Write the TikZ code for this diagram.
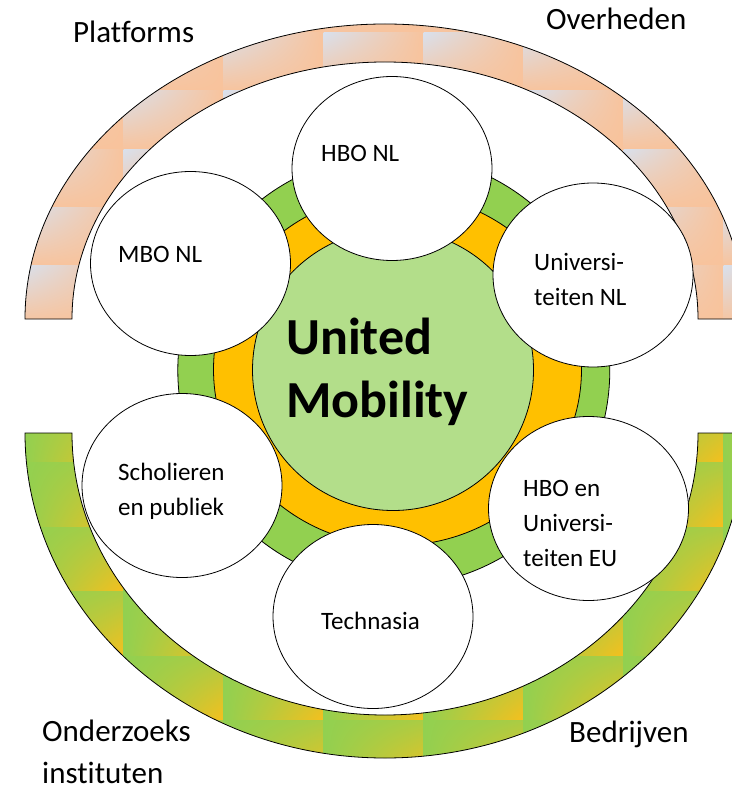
\documentclass[tikz,border=0pt]{standalone}
\usepackage{fontspec}
\setmainfont{Carlito}[Ligatures=NoCommon]
\usetikzlibrary{shapes.geometric,shadings}
\definecolor{peach}{RGB}{248,195,156}
\definecolor{bluegray}{RGB}{217,224,236}
\definecolor{ringgreen}{RGB}{146,208,80}
\definecolor{ringorange}{RGB}{255,192,0}
\definecolor{tileorange}{RGB}{248,191,28}
\definecolor{coregreen}{RGB}{179,222,138}
\begin{document}
\begin{tikzpicture}[x=1pt,y=1pt,
  outline/.style={draw=black, line width=0.8pt},
  sat/.style={ellipse, draw=black, line width=0.8pt, fill=white, minimum width=200pt, minimum height=184pt, inner sep=0pt},
  outerlabel/.style={anchor=base west, inner sep=0pt, align=left, font=\fontsize{31}{41.7}\selectfont},
  innerlabel/.style={anchor=base west, inner sep=0pt, align=left, font=\fontsize{25}{35}\selectfont},
  peachtile/.style={upper left=bluegray, upper right=peach, lower left=peach, lower right=peach},
  greentile/.style={upper left=ringgreen, upper right=ringgreen!75!tileorange, lower left=ringgreen, lower right=tileorange},
]
\useasboundingbox (0,0) rectangle (731,-791);
\fill[white] (0,0) rectangle (731,-791);

% top band
\begin{scope}
\clip (25,-319) arc[start angle=180,end angle=0,x radius=360,y radius=295] -- (698,-319) arc[start angle=0,end angle=180,x radius=313,y radius=257] -- cycle;
\foreach \i in {0,...,7}{
  \foreach \j in {0,...,5}{
    \shade[peachtile] ({24+100*\i-0.3},{25.3-58.3*\j+0.3}) rectangle ++(100.6,-58.9);
  }
}
\end{scope}
\draw[outline] (25,-319) arc[start angle=180,end angle=0,x radius=360,y radius=295] -- (698,-319) arc[start angle=0,end angle=180,x radius=313,y radius=257] -- cycle;

% bottom band
\begin{scope}
\clip (25,-433) arc[start angle=180,end angle=360,x radius=360,y radius=325] -- (698,-433) arc[start angle=0,end angle=-180,x radius=313,y radius=282] -- cycle;
\foreach \i in {0,...,7}{
  \foreach \j in {0,...,5}{
    \shade[greentile] ({24+100*\i-0.3},{-398.5-64.5*\j+0.3}) rectangle ++(100.6,-65.1);
  }
}
\end{scope}
\draw[outline] (25,-433) arc[start angle=180,end angle=360,x radius=360,y radius=325] -- (698,-433) arc[start angle=0,end angle=-180,x radius=313,y radius=282] -- cycle;

% rings
\node[circle, outline, fill=ringgreen, minimum size=432pt, inner sep=0pt] (ringouter) at (393.8,-370.3) {};
\node[ellipse, outline, fill=ringorange, minimum width=368pt, minimum height=352pt, inner sep=0pt] (ringinner) at (397.5,-369.5) {};
\node[circle, outline, fill=coregreen, minimum size=281pt, inner sep=0pt] (core) at (393,-370) {};

% satellites
\node[sat] (hbonl) at (392,-168.5) {};
\node[sat] (unl) at (593,-275) {};
\node[sat] (mbo) at (190.5,-263.5) {};
\node[sat] (schol) at (182,-485.5) {};
\node[sat] (tech) at (373,-616.5) {};
\node[sat] (hboeu) at (588.5,-508.5) {};

% texts (multi-line nodes: base = baseline of last line)
\node[anchor=base west, inner sep=0pt, align=left, font=\bfseries\fontsize{52}{63}\selectfont] (coretext) at (286,-417) {United\\Mobility};
\node[innerlabel] (thbonl) at (321,-162) {HBO NL};
\node[innerlabel] (tunl) at (534,-305) {Universi-\\teiten NL};
\node[innerlabel] (tmbo) at (118,-262) {MBO NL};
\node[innerlabel] (tschol) at (118,-515) {Scholieren\\en publiek};
\node[innerlabel] (ttech) at (321,-629) {Technasia};
\node[innerlabel] (thboeu) at (523,-566) {HBO en\\Universi-\\teiten EU};
\node[outerlabel] (tplat) at (73,-43) {Platforms};
\node[outerlabel] (tover) at (546,-30) {Overheden};
\node[outerlabel] (tonder) at (42,-783) {Onderzoeks\\instituten};
\node[outerlabel] (tbedr) at (569,-742) {Bedrijven};
\end{tikzpicture}
\end{document}
